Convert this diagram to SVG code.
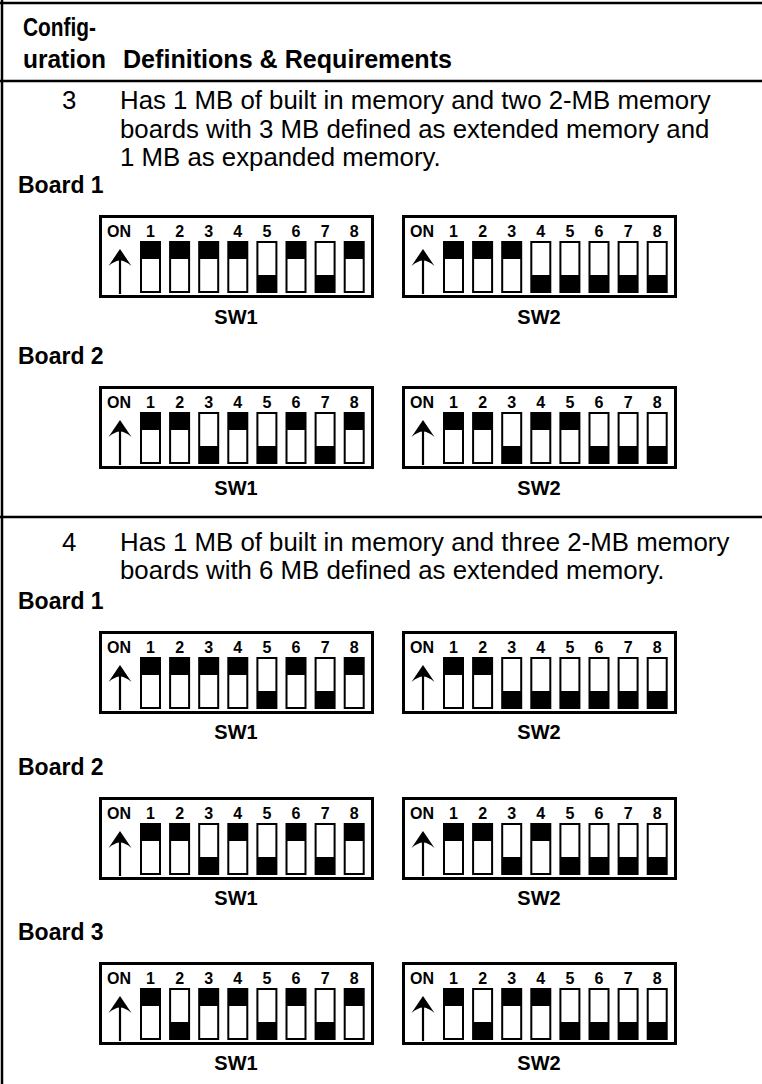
<svg xmlns="http://www.w3.org/2000/svg" xmlns:xlink="http://www.w3.org/1999/xlink" width="762" height="1084" viewBox="0 0 762 1084">
<style>
.bg{fill:#ffffff}
.rule{stroke:#000;stroke-width:2.5;fill:none}
.hd{font-family:"Liberation Sans",Arial,sans-serif;font-weight:bold;font-size:25px;fill:#000}
.tx{font-family:"Liberation Sans",Arial,sans-serif;font-size:25.8px;fill:#000}
.bd{font-family:"Liberation Sans",Arial,sans-serif;font-weight:bold;font-size:23px;fill:#000}
.lab{font-family:"Liberation Sans",Arial,sans-serif;font-weight:bold;font-size:20px;fill:#000;text-anchor:middle}
.on{font-family:"Liberation Sans",Arial,sans-serif;font-weight:bold;font-size:16px;fill:#000}
.dg{font-family:"Liberation Sans",Arial,sans-serif;font-weight:bold;font-size:16px;fill:#000;text-anchor:middle}
.box{fill:#fff;stroke:#000;stroke-width:3}
.sw{fill:#fff;stroke:#000;stroke-width:2}
.k{fill:#000}
.arr{stroke:#000;stroke-width:2.2;fill:none}
.head{fill:#000}
</style>
<defs>
<g id="frame"><rect class="box" x="1.5" y="1.5" width="272" height="80"/><path class="arr" d="M21,79 V44"/><path class="head" d="M21,34 L32.5,51 Q26,45.5 21,45.5 Q16,45.5 9.5,51 Z"/></g>
<g id="swOn"><rect class="sw" x="0" y="27" width="19" height="50"/><rect class="k" x="0" y="27" width="19" height="17"/></g>
<g id="swOff"><rect class="sw" x="0" y="27" width="19" height="50"/><rect class="k" x="0" y="60" width="19" height="17"/></g>
</defs>
<rect class="bg" x="0" y="0" width="762" height="1084"/>
<g id="table-rules">
<path class="rule" d="M0,3 H762"/>
<path class="rule" d="M2,0 V1084"/>
<path class="rule" d="M0,81 H762"/>
<path class="rule" d="M0,517 H762"/>
</g>
<g id="header">
<text class="hd" x="23" y="36" textLength="73" lengthAdjust="spacingAndGlyphs">Config-</text>
<text class="hd" x="23" y="68" textLength="83" lengthAdjust="spacingAndGlyphs">uration</text>
<text class="hd" x="123" y="68" textLength="329" lengthAdjust="spacingAndGlyphs">Definitions &amp; Requirements</text>
</g>
<g id="config3-text">
<text class="tx" x="62" y="109">3</text>
<text class="tx" x="120" y="109">Has 1 MB of built in memory and two 2-MB memory</text>
<text class="tx" x="120" y="138">boards with 3 MB defined as extended memory and</text>
<text class="tx" x="120" y="166">1 MB as expanded memory.</text>
<text class="bd" x="18" y="193">Board 1</text>
<text class="bd" x="18" y="364">Board 2</text>
</g>
<g id="config4-text">
<text class="tx" x="62" y="551">4</text>
<text class="tx" x="120" y="551">Has 1 MB of built in memory and three 2-MB memory</text>
<text class="tx" x="120" y="579">boards with 6 MB defined as extended memory.</text>
<text class="bd" x="18" y="609">Board 1</text>
<text class="bd" x="18" y="775">Board 2</text>
<text class="bd" x="18" y="940">Board 3</text>
</g>

<g id="c3b1-sw1" transform="translate(99,215)"><use xlink:href="#frame"/><text class="on" x="8" y="22">ON</text><text class="dg" x="51.5" y="22">1</text><text class="dg" x="80.6" y="22">2</text><text class="dg" x="109.7" y="22">3</text><text class="dg" x="138.8" y="22">4</text><text class="dg" x="167.9" y="22">5</text><text class="dg" x="197" y="22">6</text><text class="dg" x="226.1" y="22">7</text><text class="dg" x="255.2" y="22">8</text>
<use xlink:href="#swOn" x="42"/><use xlink:href="#swOn" x="71.1"/><use xlink:href="#swOn" x="100.2"/><use xlink:href="#swOn" x="129.3"/><use xlink:href="#swOff" x="158.4"/><use xlink:href="#swOn" x="187.5"/><use xlink:href="#swOff" x="216.6"/><use xlink:href="#swOn" x="245.7"/>
<text class="lab" x="137" y="109">SW1</text></g>

<g id="c3b1-sw2" transform="translate(402,215)"><use xlink:href="#frame"/><text class="on" x="8" y="22">ON</text><text class="dg" x="51.5" y="22">1</text><text class="dg" x="80.6" y="22">2</text><text class="dg" x="109.7" y="22">3</text><text class="dg" x="138.8" y="22">4</text><text class="dg" x="167.9" y="22">5</text><text class="dg" x="197" y="22">6</text><text class="dg" x="226.1" y="22">7</text><text class="dg" x="255.2" y="22">8</text>
<use xlink:href="#swOn" x="42"/><use xlink:href="#swOn" x="71.1"/><use xlink:href="#swOn" x="100.2"/><use xlink:href="#swOff" x="129.3"/><use xlink:href="#swOff" x="158.4"/><use xlink:href="#swOff" x="187.5"/><use xlink:href="#swOff" x="216.6"/><use xlink:href="#swOff" x="245.7"/>
<text class="lab" x="137" y="109">SW2</text></g>

<g id="c3b2-sw1" transform="translate(99,386)"><use xlink:href="#frame"/><text class="on" x="8" y="22">ON</text><text class="dg" x="51.5" y="22">1</text><text class="dg" x="80.6" y="22">2</text><text class="dg" x="109.7" y="22">3</text><text class="dg" x="138.8" y="22">4</text><text class="dg" x="167.9" y="22">5</text><text class="dg" x="197" y="22">6</text><text class="dg" x="226.1" y="22">7</text><text class="dg" x="255.2" y="22">8</text>
<use xlink:href="#swOn" x="42"/><use xlink:href="#swOn" x="71.1"/><use xlink:href="#swOff" x="100.2"/><use xlink:href="#swOn" x="129.3"/><use xlink:href="#swOff" x="158.4"/><use xlink:href="#swOn" x="187.5"/><use xlink:href="#swOff" x="216.6"/><use xlink:href="#swOn" x="245.7"/>
<text class="lab" x="137" y="109">SW1</text></g>

<g id="c3b2-sw2" transform="translate(402,386)"><use xlink:href="#frame"/><text class="on" x="8" y="22">ON</text><text class="dg" x="51.5" y="22">1</text><text class="dg" x="80.6" y="22">2</text><text class="dg" x="109.7" y="22">3</text><text class="dg" x="138.8" y="22">4</text><text class="dg" x="167.9" y="22">5</text><text class="dg" x="197" y="22">6</text><text class="dg" x="226.1" y="22">7</text><text class="dg" x="255.2" y="22">8</text>
<use xlink:href="#swOn" x="42"/><use xlink:href="#swOn" x="71.1"/><use xlink:href="#swOff" x="100.2"/><use xlink:href="#swOn" x="129.3"/><use xlink:href="#swOn" x="158.4"/><use xlink:href="#swOff" x="187.5"/><use xlink:href="#swOff" x="216.6"/><use xlink:href="#swOff" x="245.7"/>
<text class="lab" x="137" y="109">SW2</text></g>

<g id="c4b1-sw1" transform="translate(99,631)"><use xlink:href="#frame"/><text class="on" x="8" y="22">ON</text><text class="dg" x="51.5" y="22">1</text><text class="dg" x="80.6" y="22">2</text><text class="dg" x="109.7" y="22">3</text><text class="dg" x="138.8" y="22">4</text><text class="dg" x="167.9" y="22">5</text><text class="dg" x="197" y="22">6</text><text class="dg" x="226.1" y="22">7</text><text class="dg" x="255.2" y="22">8</text>
<use xlink:href="#swOn" x="42"/><use xlink:href="#swOn" x="71.1"/><use xlink:href="#swOn" x="100.2"/><use xlink:href="#swOn" x="129.3"/><use xlink:href="#swOff" x="158.4"/><use xlink:href="#swOn" x="187.5"/><use xlink:href="#swOff" x="216.6"/><use xlink:href="#swOn" x="245.7"/>
<text class="lab" x="137" y="108">SW1</text></g>

<g id="c4b1-sw2" transform="translate(402,631)"><use xlink:href="#frame"/><text class="on" x="8" y="22">ON</text><text class="dg" x="51.5" y="22">1</text><text class="dg" x="80.6" y="22">2</text><text class="dg" x="109.7" y="22">3</text><text class="dg" x="138.8" y="22">4</text><text class="dg" x="167.9" y="22">5</text><text class="dg" x="197" y="22">6</text><text class="dg" x="226.1" y="22">7</text><text class="dg" x="255.2" y="22">8</text>
<use xlink:href="#swOn" x="42"/><use xlink:href="#swOn" x="71.1"/><use xlink:href="#swOff" x="100.2"/><use xlink:href="#swOff" x="129.3"/><use xlink:href="#swOff" x="158.4"/><use xlink:href="#swOff" x="187.5"/><use xlink:href="#swOff" x="216.6"/><use xlink:href="#swOff" x="245.7"/>
<text class="lab" x="137" y="108">SW2</text></g>

<g id="c4b2-sw1" transform="translate(99,797)"><use xlink:href="#frame"/><text class="on" x="8" y="22">ON</text><text class="dg" x="51.5" y="22">1</text><text class="dg" x="80.6" y="22">2</text><text class="dg" x="109.7" y="22">3</text><text class="dg" x="138.8" y="22">4</text><text class="dg" x="167.9" y="22">5</text><text class="dg" x="197" y="22">6</text><text class="dg" x="226.1" y="22">7</text><text class="dg" x="255.2" y="22">8</text>
<use xlink:href="#swOn" x="42"/><use xlink:href="#swOn" x="71.1"/><use xlink:href="#swOff" x="100.2"/><use xlink:href="#swOn" x="129.3"/><use xlink:href="#swOff" x="158.4"/><use xlink:href="#swOn" x="187.5"/><use xlink:href="#swOff" x="216.6"/><use xlink:href="#swOn" x="245.7"/>
<text class="lab" x="137" y="108">SW1</text></g>

<g id="c4b2-sw2" transform="translate(402,797)"><use xlink:href="#frame"/><text class="on" x="8" y="22">ON</text><text class="dg" x="51.5" y="22">1</text><text class="dg" x="80.6" y="22">2</text><text class="dg" x="109.7" y="22">3</text><text class="dg" x="138.8" y="22">4</text><text class="dg" x="167.9" y="22">5</text><text class="dg" x="197" y="22">6</text><text class="dg" x="226.1" y="22">7</text><text class="dg" x="255.2" y="22">8</text>
<use xlink:href="#swOn" x="42"/><use xlink:href="#swOn" x="71.1"/><use xlink:href="#swOff" x="100.2"/><use xlink:href="#swOn" x="129.3"/><use xlink:href="#swOff" x="158.4"/><use xlink:href="#swOff" x="187.5"/><use xlink:href="#swOff" x="216.6"/><use xlink:href="#swOff" x="245.7"/>
<text class="lab" x="137" y="108">SW2</text></g>

<g id="c4b3-sw1" transform="translate(99,962)"><use xlink:href="#frame"/><text class="on" x="8" y="22">ON</text><text class="dg" x="51.5" y="22">1</text><text class="dg" x="80.6" y="22">2</text><text class="dg" x="109.7" y="22">3</text><text class="dg" x="138.8" y="22">4</text><text class="dg" x="167.9" y="22">5</text><text class="dg" x="197" y="22">6</text><text class="dg" x="226.1" y="22">7</text><text class="dg" x="255.2" y="22">8</text>
<use xlink:href="#swOn" x="42"/><use xlink:href="#swOff" x="71.1"/><use xlink:href="#swOn" x="100.2"/><use xlink:href="#swOn" x="129.3"/><use xlink:href="#swOff" x="158.4"/><use xlink:href="#swOn" x="187.5"/><use xlink:href="#swOff" x="216.6"/><use xlink:href="#swOn" x="245.7"/>
<text class="lab" x="137" y="108">SW1</text></g>

<g id="c4b3-sw2" transform="translate(402,962)"><use xlink:href="#frame"/><text class="on" x="8" y="22">ON</text><text class="dg" x="51.5" y="22">1</text><text class="dg" x="80.6" y="22">2</text><text class="dg" x="109.7" y="22">3</text><text class="dg" x="138.8" y="22">4</text><text class="dg" x="167.9" y="22">5</text><text class="dg" x="197" y="22">6</text><text class="dg" x="226.1" y="22">7</text><text class="dg" x="255.2" y="22">8</text>
<use xlink:href="#swOn" x="42"/><use xlink:href="#swOff" x="71.1"/><use xlink:href="#swOn" x="100.2"/><use xlink:href="#swOn" x="129.3"/><use xlink:href="#swOff" x="158.4"/><use xlink:href="#swOff" x="187.5"/><use xlink:href="#swOff" x="216.6"/><use xlink:href="#swOff" x="245.7"/>
<text class="lab" x="137" y="108">SW2</text></g>
</svg>
